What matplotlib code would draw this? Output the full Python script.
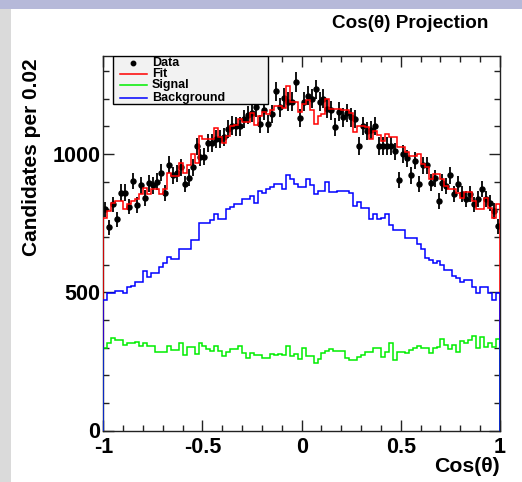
import numpy as np
import matplotlib
matplotlib.use("Agg")
import matplotlib.pyplot as plt
from matplotlib.patches import Rectangle
from matplotlib.ticker import MultipleLocator

plt.rcParams['font.family'] = ['Liberation Sans', 'DejaVu Sans']
plt.rcParams['font.weight'] = 'bold'
plt.rcParams['axes.unicode_minus'] = False

# 100 bins of width 0.02 over cos(theta) in [-1, 1]
edges = np.linspace(-1.0, 1.0, 101)

data = [800, 735, 818, 764, 861, 861, 810, 903, 815, 887,
        842, 894, 887, 900, 933, 858, 962, 924, 931, 953,
        891, 915, 953, 1028, 988, 991, 1040, 1040, 1056, 1055,
        1061, 1091, 1103, 1100, 1100, 1127, 1142, 1149, 1170, 1109,
        1158, 1109, 1145, 1227, 1170, 1203, 1190, 1190, 1261, 1130,
        1190, 1212, 1200, 1234, 1190, 1200, 1164, 1158, 1097, 1154,
        1133, 1149, 1133, 1127, 1030, 1101, 1085, 1088, 1101, 1030,
        1030, 1030, 1030, 1010, 906, 1000, 985, 924, 976, 891,
        960, 960, 897, 912, 830, 897, 885, 924, 855, 891,
        855, 836, 855, 818, 839, 873, 839, 824, 794, 739]

fit = [770, 794, 824, 831, 831, 803, 818, 830, 836, 855,
       879, 855, 873, 873, 855, 873, 933, 921, 921, 967,
       933, 960, 1000, 967, 1064, 1055, 1055, 1055, 1093, 1061,
       1042, 1067, 1101, 1105, 1127, 1117, 1117, 1149, 1105, 1139,
       1152, 1145, 1161, 1173, 1173, 1166, 1246, 1188, 1188, 1154,
       1180, 1194, 1158, 1109, 1139, 1145, 1200, 1164, 1164, 1164,
       1158, 1158, 1149, 1079, 1101, 1101, 1097, 1055, 1085, 1069,
       1048, 1073, 1061, 1061, 1024, 1024, 1006, 994, 994, 1000,
       964, 952, 909, 927, 927, 909, 885, 875, 875, 861,
       842, 864, 864, 830, 800, 800, 842, 806, 770, 818]

signal = [297, 315, 333, 327, 327, 311, 315, 315, 320, 305,
          318, 305, 305, 283, 285, 285, 305, 291, 291, 315,
          273, 303, 303, 276, 315, 307, 295, 287, 305, 287,
          269, 285, 295, 295, 305, 281, 261, 281, 273, 273,
          264, 264, 276, 273, 276, 273, 305, 269, 278, 257,
          297, 269, 269, 245, 259, 281, 289, 295, 287, 287,
          289, 261, 255, 255, 267, 273, 285, 285, 297, 297,
          267, 285, 315, 255, 285, 285, 281, 291, 297, 305,
          300, 300, 281, 297, 303, 330, 309, 295, 309, 285,
          325, 315, 327, 342, 297, 340, 303, 318, 303, 330]

background = [473, 499, 499, 505, 505, 499, 519, 524, 536, 536,
              576, 556, 571, 571, 592, 606, 628, 622, 622, 655,
              658, 658, 691, 691, 749, 752, 752, 760, 782, 766,
              766, 800, 810, 818, 818, 839, 839, 850, 824, 865,
              861, 873, 882, 891, 891, 872, 924, 909, 891, 882,
              880, 910, 890, 855, 867, 865, 900, 864, 864, 867,
              867, 867, 860, 812, 827, 806, 806, 766, 782, 766,
              770, 782, 742, 727, 727, 727, 697, 697, 697, 673,
              655, 624, 618, 606, 612, 600, 582, 582, 558, 552,
              539, 545, 545, 519, 497, 519, 519, 497, 473, 497]

xticks = [-1, -0.5, 0, 0.5, 1]
xticklabels = ['-1', '-0.5', '0', '0.5', '1']
yticks = [0, 500, 1000]
yticklabels = ['0', '500', '1000']

W, H = 522, 482
fig = plt.figure(figsize=(W / 100, H / 100), dpi=100)
fig.patch.set_facecolor('white')

# slide-like frame strips
fig.patches.append(Rectangle((0, 1 - 9 / H), 1, 9 / H, transform=fig.transFigure,
                             facecolor='#b6b9d9', edgecolor='none', zorder=0))
fig.patches.append(Rectangle((0, 0), 11 / W, 1 - 9 / H, transform=fig.transFigure,
                             facecolor='#dadada', edgecolor='none', zorder=0))

ax_l, ax_r, ax_t, ax_b = 103.3, 500.0, 56.0, 430.5
ax = fig.add_axes([ax_l / W, 1 - ax_b / H, (ax_r - ax_l) / W, (ax_b - ax_t) / H])

centers = 0.5 * (edges[:-1] + edges[1:])
vals = np.array(data, dtype=float)
ax.errorbar(centers, vals, yerr=np.sqrt(vals), fmt='o', ms=3.6, color='black',
            elinewidth=1.3, capsize=0, zorder=2)

ax.stairs(fit, edges, color='#ff0000', lw=1.1, zorder=3)
ax.stairs(signal, edges, color='#00ee00', lw=1.1, zorder=3)
ax.stairs(background, edges, color='#0000ff', lw=1.1, zorder=3)

ax.set_xlim(-1, 1)
ax.set_ylim(0, 1355)

ax.set_xticks(xticks)
ax.set_xticklabels(xticklabels)
ax.set_yticks(yticks)
ax.set_yticklabels(yticklabels)
ax.xaxis.set_minor_locator(MultipleLocator(0.1))
ax.yaxis.set_minor_locator(MultipleLocator(100))
ax.tick_params(which='both', direction='in', top=True, right=True, width=1, color='#222222')
ax.tick_params(which='major', length=8)
ax.tick_params(which='minor', length=4.3)
ax.tick_params(axis='x', which='major', pad=5, labelsize=15.5)
ax.tick_params(axis='y', which='major', pad=2, labelsize=15.5)
for lab in ax.get_xticklabels() + ax.get_yticklabels():
    lab.set_fontweight('bold')
for sp in ax.spines.values():
    sp.set_linewidth(1)
    sp.set_color('#222222')

# legend box, ROOT style
ax.add_patch(Rectangle((0.0245, 0.872), 0.3905, 0.128, transform=ax.transAxes,
                       facecolor='#f2f2f2', edgecolor='black', lw=1, zorder=5))
rows = [0.981, 0.952, 0.923, 0.889]
labels = ['Data', 'Fit', 'Signal', 'Background']
colors = [None, '#ff0000', '#00ee00', '#0000ff']
for yy, lab, col in zip(rows, labels, colors):
    if col is None:
        ax.plot([0.0756], [yy], 'o', ms=3.2, color='black', transform=ax.transAxes,
                zorder=6, clip_on=False)
    else:
        ax.plot([0.042, 0.109], [yy, yy], color=col, lw=1.1, transform=ax.transAxes,
                zorder=6, clip_on=False)
    ax.text(0.122, yy, lab, transform=ax.transAxes, ha='left', va='center',
            fontsize=9, fontweight='bold', zorder=6)

fig.text(488 / W, 1 - 24 / H, 'Cos(θ) Projection', ha='right', va='center',
         fontsize=13.6, fontweight='bold')
fig.text(500 / W, 1 - 467 / H, 'Cos(θ)', ha='right', va='center',
         fontsize=15.3, fontweight='bold')
fig.text(31.5 / W, 1 - 58 / H, 'Candidates per 0.02', ha='center', va='top',
         rotation=90, fontsize=15, fontweight='bold')

fig.savefig('out.png', dpi=100)
